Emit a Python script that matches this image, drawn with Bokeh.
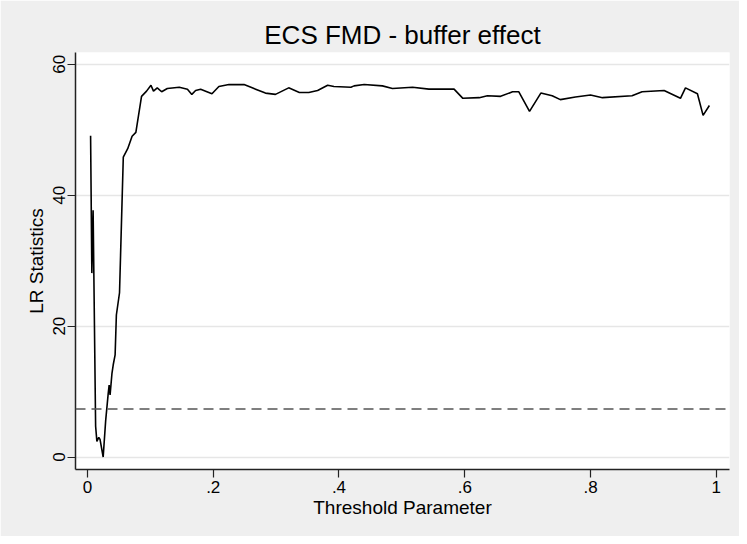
from bokeh.plotting import figure
from bokeh.models import FixedTicker, Span, Range1d
from bokeh.embed import file_html
from bokeh.resources import INLINE

threshold = [0.005, 0.007, 0.009, 0.013, 0.015, 0.018, 0.020, 0.025, 0.029, 0.033,
             0.0345, 0.036, 0.039, 0.041, 0.044, 0.046, 0.051, 0.057, 0.064, 0.071,
             0.077, 0.086, 0.094, 0.101, 0.105, 0.111, 0.118, 0.127, 0.146, 0.159,
             0.166, 0.172, 0.180, 0.198, 0.209, 0.225, 0.249, 0.262, 0.283, 0.299,
             0.320, 0.337, 0.352, 0.366, 0.382, 0.392, 0.419, 0.424, 0.440, 0.469,
             0.485, 0.517, 0.543, 0.583, 0.597, 0.623, 0.636, 0.657, 0.676, 0.686,
             0.703, 0.721, 0.739, 0.752, 0.776, 0.800, 0.819, 0.866, 0.882, 0.917,
             0.943, 0.951, 0.970, 0.979, 0.989]
lr_stat = [49.1, 28.1, 37.7, 4.7, 2.4, 3.0, 2.7, 0.0, 5.6, 9.7,
           11.0, 9.5, 12.8, 14.1, 15.6, 21.7, 25.1, 45.8, 47.1, 49.0,
           49.6, 55.1, 55.9, 56.8, 55.9, 56.4, 55.8, 56.3, 56.5, 56.2,
           55.4, 56.0, 56.2, 55.5, 56.6, 56.9, 56.9, 56.4, 55.6, 55.4,
           56.4, 55.7, 55.7, 56.0, 56.8, 56.6, 56.5, 56.7, 56.9, 56.7,
           56.3, 56.5, 56.2, 56.2, 54.8, 54.9, 55.2, 55.1, 55.8, 55.8,
           52.8, 55.6, 55.2, 54.6, 55.0, 55.3, 54.9, 55.2, 55.8, 56.0,
           54.8, 56.4, 55.5, 52.2, 53.7]
critical_value = 7.35

x_ticks = [0, 0.2, 0.4, 0.6, 0.8, 1]
x_tick_labels = ["0", ".2", ".4", ".6", ".8", "1"]
y_ticks = [0, 20, 40, 60]
y_tick_labels = ["0", "20", "40", "60"]

FONT = "Liberation Sans"
BG = "#efefef"

p = figure(width=739, height=536, output_backend="svg", toolbar_location=None,
           x_range=Range1d(-0.019, 1.021), y_range=Range1d(-1.9, 61.8),
           title="ECS FMD - buffer effect",
           min_border_left=75, min_border_right=10, min_border_top=52, min_border_bottom=67)

p.background_fill_color = "white"
p.border_fill_color = BG
p.outline_line_color = None

p.title.align = "center"
p.title.text_font = FONT
p.title.text_font_size = "26px"
p.title.text_font_style = "normal"
p.title.text_color = "black"
p.title.standoff = 6

p.xgrid.visible = False
p.ygrid.ticker = FixedTicker(ticks=y_ticks)
p.ygrid.grid_line_color = "#e6e6e6"
p.ygrid.grid_line_width = 1.5

p.xaxis.ticker = FixedTicker(ticks=x_ticks)
p.xaxis.major_label_overrides = dict(zip(x_ticks, x_tick_labels))
p.yaxis.ticker = FixedTicker(ticks=y_ticks)
p.yaxis.major_label_overrides = dict(zip(y_ticks, y_tick_labels))
p.yaxis.major_label_orientation = "vertical"

p.xaxis.axis_label = "Threshold Parameter"
p.yaxis.axis_label = "LR Statistics"

for ax in (p.xaxis[0], p.yaxis[0]):
    ax.axis_line_color = "#222222"
    ax.axis_line_width = 1.5
    ax.major_tick_line_color = "#222222"
    ax.major_tick_line_width = 1.2
    ax.major_tick_out = 8
    ax.major_tick_in = 0
    ax.minor_tick_out = 0
    ax.minor_tick_in = 0
    ax.major_label_text_font = FONT
    ax.major_label_text_font_size = "17px"
    ax.major_label_text_color = "black"
    ax.axis_label_text_font = FONT
    ax.axis_label_text_font_size = "19px"
    ax.axis_label_text_font_style = "normal"
    ax.axis_label_text_color = "black"

p.xaxis.major_label_standoff = 3
p.xaxis.axis_label_standoff = 1
p.yaxis.major_label_standoff = 2
p.yaxis.axis_label_standoff = 4

p.add_layout(Span(location=critical_value, dimension="width", line_color="#555555",
                  line_width=1.5, line_dash="10 6"))

p.line(threshold, lr_stat, line_color="black", line_width=1.6)

open("out.html", "w").write(file_html(p, INLINE))
